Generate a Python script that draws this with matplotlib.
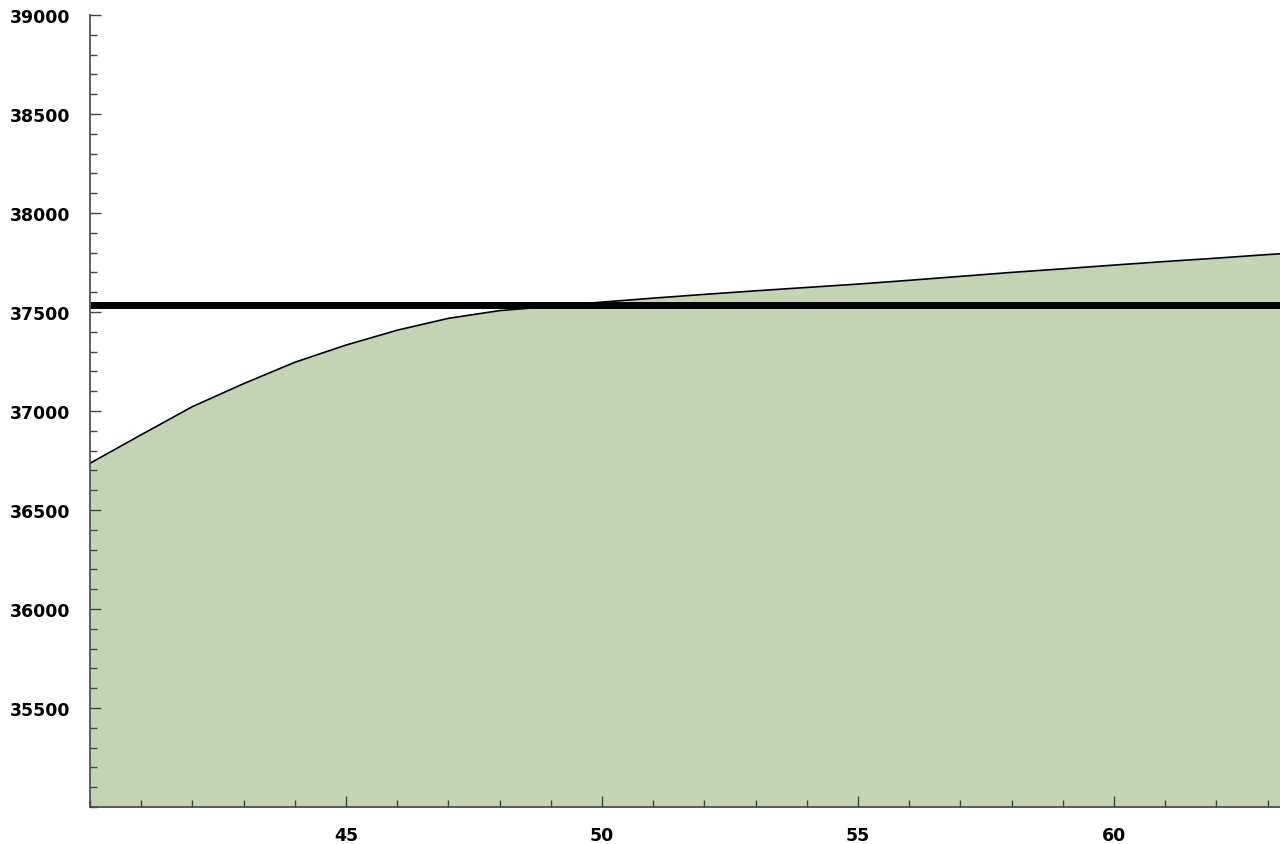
import matplotlib
matplotlib.use("Agg")
import matplotlib.pyplot as plt
from matplotlib.ticker import MultipleLocator, FixedLocator

# data
years = [40, 41, 42, 43, 44, 45, 46, 47, 48, 49, 50, 51, 52, 53, 54, 55,
         56, 57, 58, 59, 60, 61, 62, 63, 64]
curve = [36736, 36880, 37022, 37138, 37246, 37333, 37408, 37468, 37507, 37528,
         37550, 37570, 37589, 37607, 37624, 37641, 37660, 37680, 37700, 37718,
         37737, 37755, 37772, 37790, 37806]
level = [37535] * len(years)

x_ticks = [45, 50, 55, 60]
y_ticks = [35500, 36000, 36500, 37000, 37500, 38000, 38500, 39000]

fig = plt.figure(figsize=(12.8, 8.45), dpi=100)
ax = fig.add_axes([90 / 1280, 1 - 808 / 845, 1 - 90 / 1280, (808 - 16) / 845])

ax.fill_between(years, curve, 35000, color="#c3d4b4", lw=0)
ax.plot(years, curve, color="black", lw=1.2)
ax.plot(years, level, color="black", lw=5, solid_capstyle="butt")

ax.set_xlim(40, 40 + 1190 / 51.2)
ax.set_ylim(35000, 39000)

ax.xaxis.set_major_locator(FixedLocator(x_ticks))
ax.xaxis.set_minor_locator(MultipleLocator(1))
ax.yaxis.set_major_locator(FixedLocator(y_ticks))
ax.yaxis.set_minor_locator(MultipleLocator(100))

for s in ("top", "right"):
    ax.spines[s].set_visible(False)
for s in ("left", "bottom"):
    ax.spines[s].set_color("#444444")
    ax.spines[s].set_linewidth(1.2)

ax.tick_params(which="both", direction="in", colors="#444444", labelcolor="black")
ax.tick_params(which="major", length=8, width=1, pad=14)
ax.tick_params(which="minor", length=5, width=1)
for lab in ax.get_xticklabels() + ax.get_yticklabels():
    lab.set_fontsize(12.5)
    lab.set_fontweight("bold")

fig.savefig("out.png", dpi=100)
